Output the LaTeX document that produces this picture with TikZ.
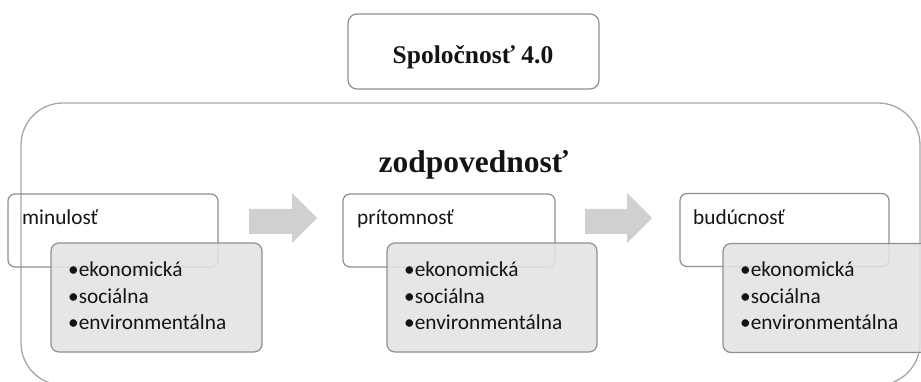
\documentclass[tikz,border=0pt]{standalone}
\usepackage{fontspec}
\setmainfont{Liberation Serif}
\newfontfamily\carl{Carlito}
\definecolor{outerline}{HTML}{A6A6A6}
\definecolor{boxline}{HTML}{8F8F8F}
\definecolor{grayfill}{HTML}{E2E2E2}
\definecolor{arrowfill}{HTML}{D0D0D0}
\definecolor{txt}{HTML}{141414}
\tikzset{
  outerbox/.style={draw=outerline, line width=1.3pt, rounded corners=42pt, inner sep=0pt},
  whitebox/.style={draw=boxline, line width=1.2pt, rounded corners=7pt, inner sep=0pt, minimum width=210pt, minimum height=73pt},
  graybox/.style={draw=boxline, line width=1.2pt, rounded corners=8pt, fill=grayfill, fill opacity=0.88, inner sep=0pt, minimum width=211pt, minimum height=109pt},
  topbox/.style={draw=boxline, line width=1.2pt, rounded corners=9pt, inner sep=0pt, minimum width=251pt, minimum height=75pt},
  labeltxt/.style={anchor=base west, inner sep=0pt, text=txt, font=\carl\fontsize{21.3}{24}\selectfont},
  bullettxt/.style={anchor=base west, inner sep=0pt, text=txt, font=\carl\fontsize{21.3}{24}\selectfont},
  blockarrow/.style={fill=arrowfill, draw=none}
}
\begin{document}
\begin{tikzpicture}[x=1pt,y=-1pt]
\useasboundingbox (0,0) rectangle (921,382);
\clip (0,0) rectangle (921,382);
% outer frame
\node[outerbox, minimum width=899pt, minimum height=282pt] (outer) at (470.5,244) {};
% top box
\node[topbox] (top) at (473.5,51.5) {};
\node[anchor=base, inner sep=0pt, text=txt, font=\bfseries\fontsize{25.5}{30}\selectfont] (toptxt) at (473,64) {Spoločnosť 4.0};
\node[anchor=base, inner sep=0pt, text=txt, font=\bfseries\fontsize{31.5}{36}\selectfont] (zod) at (473.5,173) {zodpovednosť};
% white boxes
\node[whitebox] (w1) at (113,230.5) {};
\node[whitebox, minimum width=212pt] (w2) at (449,230.5) {};
\node[whitebox, minimum width=209pt] (w3) at (784.5,230) {};
\node[labeltxt] (l1) at (22,225) {minulosť};
\node[labeltxt] (l2) at (357,225) {prítomnosť};
\node[labeltxt] (l3) at (693,225) {budúcnosť};
% gray boxes
\node[graybox] (g1) at (156.5,297.5) {};
\node[graybox, minimum width=210pt] (g2) at (492,297.5) {};
\node[graybox] (g3) at (828.5,298) {};
\foreach \n/\x in {a/68,b/404,c/740}{
  \node[bullettxt] (\n1) at (\x,276.5) {•ekonomická};
  \node[bullettxt] (\n2) at (\x,303) {•sociálna};
  \node[bullettxt] (\n3) at (\x,329.5) {•environmentálna};
}
% block arrows
\fill[blockarrow] (249,209) -- (292,209) -- (292,193) -- (317,218) -- (292,243) -- (292,234) -- (249,234) -- cycle;
\fill[blockarrow] (585,209) -- (627,209) -- (627,193) -- (652,218) -- (627,243) -- (627,234) -- (585,234) -- cycle;
\end{tikzpicture}
\end{document}
